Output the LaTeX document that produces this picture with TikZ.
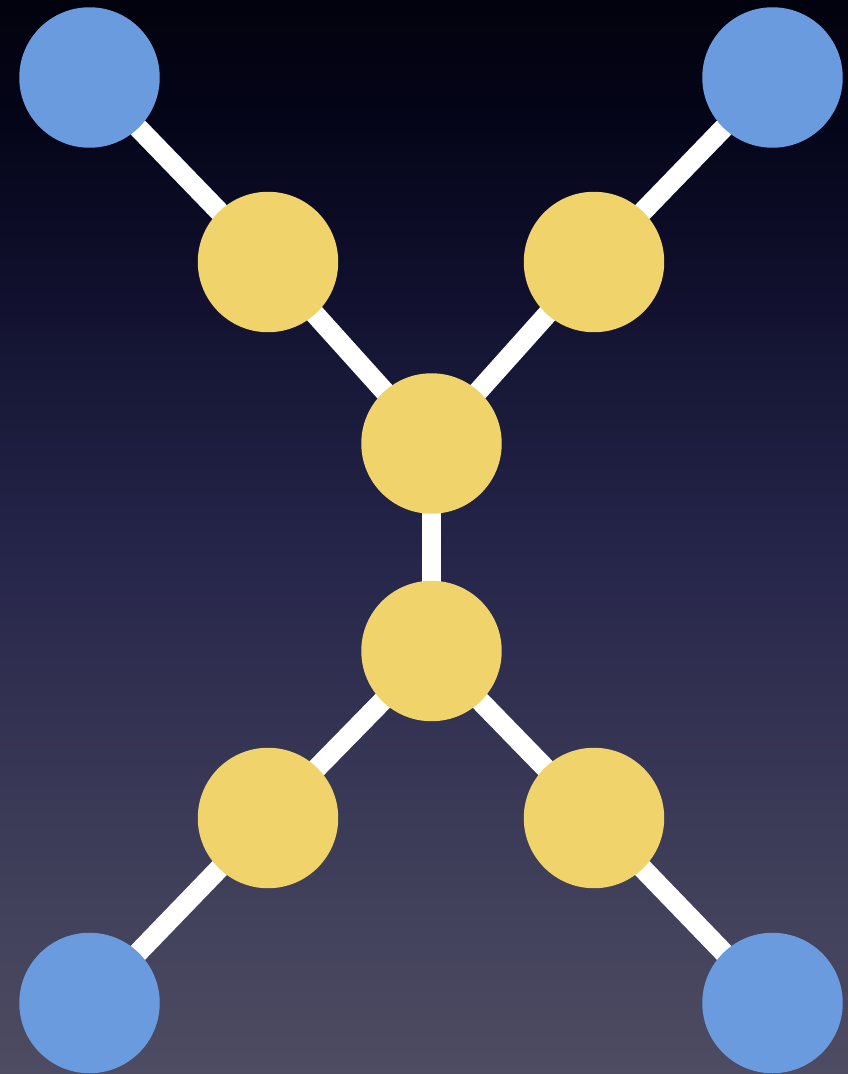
\documentclass[tikz,border=0pt]{standalone}
\definecolor{bluenode}{HTML}{6A9BDE}
\definecolor{yellownode}{HTML}{F0D46B}
\definecolor{c0}{HTML}{4E4C62}
\definecolor{c1}{HTML}{403F5A}
\definecolor{c2}{HTML}{25254A}
\definecolor{c3}{HTML}{121230}
\definecolor{c4}{HTML}{05051A}
\definecolor{c5}{HTML}{02020E}
\pgfdeclareverticalshading{bgshade}{100bp}{%
  color(0bp)=(c0); color(25bp)=(c0); color(34.03bp)=(c1); color(49.39bp)=(c2);
  color(60.57bp)=(c3); color(68.95bp)=(c4); color(75bp)=(c5); color(100bp)=(c5)}
\pgfdeclarelayer{edges}
\pgfsetlayers{edges,main}
\tikzset{
  bnode/.style={circle, fill=bluenode, minimum size=141pt, inner sep=0pt, draw=none},
  ynode/.style={circle, fill=yellownode, minimum size=141pt, inner sep=0pt, draw=none},
  link/.style={draw=white, line width=20pt}
}
\begin{document}
\begin{tikzpicture}[x=1bp,y=-1bp]
\useasboundingbox (0,0) rectangle (848,1074);
\node[bnode] (b1) at (89.5,77.5) {};
\node[bnode] (b2) at (772.5,77.5) {};
\node[bnode] (b3) at (89.5,1003) {};
\node[bnode] (b4) at (772.5,1003) {};
\node[ynode] (y1) at (268,262) {};
\node[ynode] (y2) at (594,262) {};
\node[ynode] (y3) at (431.5,443.5) {};
\node[ynode] (y4) at (431.5,651) {};
\node[ynode] (y5) at (268,818) {};
\node[ynode] (y6) at (594,818) {};
\begin{pgfonlayer}{edges}
\shade[shading=bgshade] (0,0) rectangle (848,1074);
\path[link] (b1.center) -- (y1.center) -- (y3.center);
\path[link] (b2.center) -- (y2.center) -- (y3.center);
\path[link] (y3.center) -- (y4.center);
\path[link] (y4.center) -- (y5.center) -- (b3.center);
\path[link] (y4.center) -- (y6.center) -- (b4.center);
\end{pgfonlayer}
\end{tikzpicture}
\end{document}
